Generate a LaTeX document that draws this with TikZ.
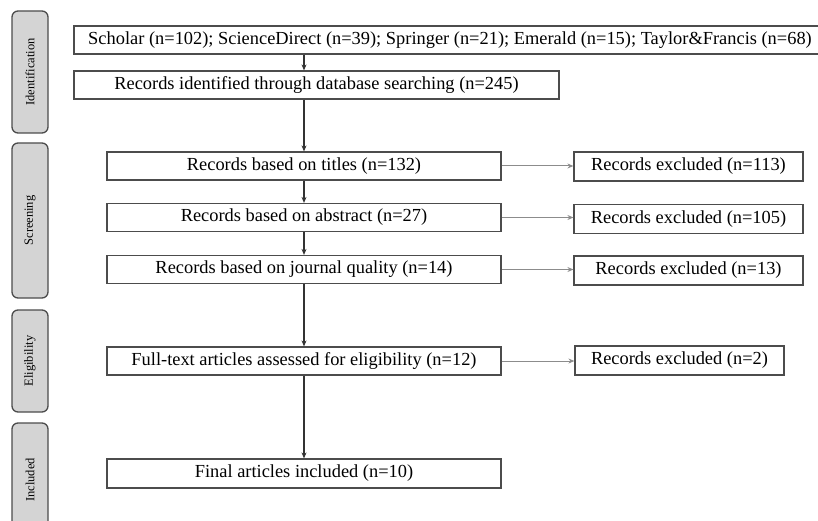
\documentclass[tikz,border=0pt]{standalone}
\usepackage{fontspec}
\setmainfont{Liberation Serif}
\usetikzlibrary{arrows.meta}

\begin{document}
\begin{tikzpicture}[x=1pt,y=-1pt,
    box/.style={draw=black!70, line width=1.2pt, fill=white, inner sep=0pt,
        minimum height=28pt, font=\fontsize{18.4}{21}\selectfont},
    stage/.style={draw=black!70, line width=1.3pt, fill=stagegray, rounded corners=6pt,
        inner sep=0pt, minimum width=36pt, font=\fontsize{12.5}{14}\selectfont},
    flow/.style={draw=black!80, line width=1.1pt, -{Stealth[length=6pt,width=5pt]}},
    side/.style={draw=black!45, line width=1pt, -{Stealth[length=6pt,width=5pt]}}]

    % Define colors
    \definecolor{stagegray}{RGB}{212,212,212}

    \useasboundingbox (0,0) rectangle (818,521);

    % Stages on the left
    \node[stage, minimum height=122pt] (sid) at (30,72) {\rotatebox{90}{Identification}};
    \node[stage, minimum height=155pt] (sscr) at (30,220.5) {\rotatebox{90}{Screening}};
    \node[stage, minimum height=102pt] (selig) at (30,361) {\rotatebox{90}{Eligibility}};
    \node[stage, minimum height=114pt] (sinc) at (30,480) {\rotatebox{90}{Included}};

    %-------------
    % Identification
    \node[box, minimum width=752pt] (src) at (450,40)
        {Scholar (n=102); ScienceDirect (n=39); Springer (n=21); Emerald (n=15); Taylor\&Francis (n=68)};
    \node[box, minimum width=485pt] (idn) at (316.5,85)
        {Records identified through database searching (n=245)};

    %-------------
    % Screening
    \node[box, minimum width=394pt] (tit) at (304,166) {Records based on titles (n=132)};
    \node[box, minimum width=394pt] (abs) at (304,217.5) {Records based on abstract (n=27)};
    \node[box, minimum width=394pt] (jq) at (304,269.5) {Records based on journal quality (n=14)};

    \node[box, minimum width=229pt, minimum height=29pt] (ex1) at (688.5,166.5) {Records excluded (n=113)};
    \node[box, minimum width=229pt, minimum height=29pt] (ex2) at (688.5,219) {Records excluded (n=105)};
    \node[box, minimum width=229pt, minimum height=29pt] (ex3) at (688.5,270.5) {Records excluded (n=13)};

    %-------------
    % Eligibility
    \node[box, minimum width=394pt] (ful) at (304,361) {Full-text articles assessed for eligibility (n=12)};
    \node[box, minimum width=209pt, minimum height=29pt] (ex4) at (679.5,360.5) {Records excluded (n=2)};

    %-------------
    % Included
    \node[box, minimum width=394pt, minimum height=29pt] (fin) at (304,473.5) {Final articles included (n=10)};

    % Arrows down the middle
    \draw[flow] (tit.north |- src.south) -- (tit.north |- idn.north);
    \draw[flow] (tit.north |- idn.south) -- (tit.north);
    \draw[flow] (tit) -- (abs);
    \draw[flow] (abs) -- (jq);
    \draw[flow] (jq) -- (ful);
    \draw[flow] (ful) -- (fin);

    % Arrows to the right
    \draw[side] (tit.east) -- (tit.east -| ex1.west);
    \draw[side] (abs.east) -- (abs.east -| ex2.west);
    \draw[side] (jq.east) -- (jq.east -| ex3.west);
    \draw[side] (ful.east) -- (ful.east -| ex4.west);

\end{tikzpicture}
\end{document}
